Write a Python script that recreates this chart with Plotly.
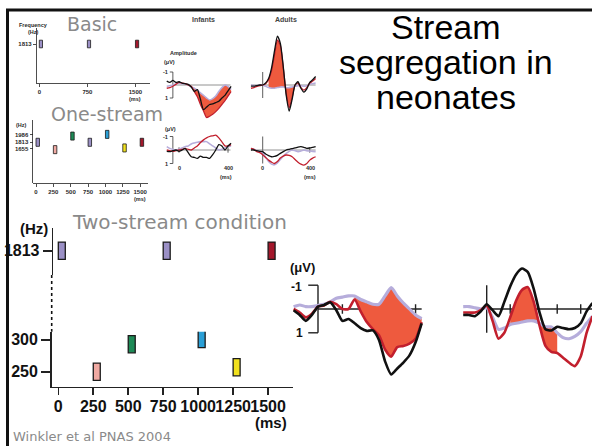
import plotly.graph_objects as go

W, H = 592, 446

# ---------------- data ----------------
tone_onsets = [0, 250, 500, 750, 1000, 1250, 1500]
tone_colors = ["#9b90c6", "#f0a9a2", "#1d8a56", "#9b90c6", "#2a9fd6", "#f1e11e", "#a3172b"]
basic_onsets = [0, 750, 1500]
basic_freqs = [1813, 1813, 1813]
basic_colors = ["#9b90c6", "#9b90c6", "#a3172b"]
one_stream_freqs = [1813, 1640, 1960, 1813, 2000, 1680, 1813]
two_stream_freqs = [1813, 250, 293, 1813, 301, 257, 1813]
tone_ms = 50

basic_ticks = [0, 750, 1500]
time_ticks = [0, 250, 500, 750, 1000, 1250, 1500]
one_stream_fticks = [1655, 1813, 1986]
two_stream_high_ticks = [1813]
two_stream_low_ticks = [250, 300]

# ERP waveforms (ms, microvolts; negative plotted upward)
t_inf_big = [-100, -75, -50, -25, 0, 25, 50, 75, 100, 125, 150, 175, 200, 225, 250, 275, 300, 325, 350, 375, 400, 425]
inf_big_black = [0.05, 0.25, 0.5, 0.25, -0.1, -0.17, -0.28, 0.05, 0.5, 0.42, 0.6, 0.8, 0.92, 0.9, 1.3, 2.2, 2.75, 2.5, 2.25, 1.95, 1.4, 0.6]
inf_big_red = [0.0, 0.15, 0.35, 0.2, -0.1, -0.15, -0.3, -0.2, 0.0, 0.0, -0.4, 0.1, 0.55, 0.85, 1.1, 1.7, 2.0, 1.6, 1.55, 1.45, 1.25, 0.55]
inf_big_lav = [-0.1, -0.17, -0.1, -0.1, -0.15, -0.2, -0.3, -0.45, -0.5, -0.55, -0.55, -0.4, -0.3, -0.2, -0.2, -0.55, -0.9, -0.55, -0.25, 0.0, 0.25, 0.4]
inf_big_fill = [150, 425]

t_adu_big = [-100, -75, -50, -25, 0, 25, 50, 75, 100, 125, 150, 175, 200, 225, 250, 275, 300, 325, 350, 375, 400, 425, 450]
adu_big_black = [0.25, 0.25, 0.3, 0.1, -0.2, 0.05, 0.3, -0.3, -0.95, -1.45, -1.7, -1.55, -0.85, 0.15, 0.85, 0.9, 0.75, 0.8, 0.85, 0.8, 0.6, 0.1, -0.25]
adu_big_red = [0.15, 0.15, 0.15, 0.05, -0.15, 0.5, 1.25, 1.0, 0.35, -0.35, -0.8, -0.92, -0.3, 0.7, 1.55, 1.8, 1.85, 2.05, 2.25, 2.4, 2.0, 1.0, 0.3]
adu_big_lav = [-0.1, -0.1, -0.05, 0.0, -0.05, 0.35, 0.85, 0.8, 0.65, 0.6, 0.55, 0.5, 0.5, 0.6, 0.75, 0.75, 1.0, 1.2, 1.25, 1.15, 0.95, 0.6, 0.3]
adu_big_fill = [100, 300]

t_inf_small = [-100, -75, -50, -25, 0, 25, 50, 75, 100, 125, 150, 175, 200, 225, 250, 275, 300, 325, 350, 375, 400, 425]
inf_up_black = [-0.3, -0.2, -0.35, -0.2, -0.25, -0.15, -0.1, -0.05, 0.15, 0.5, 0.35, 1.1, 1.9, 1.7, 1.5, 1.45, 1.35, 1.25, 1.0, 0.8, 0.45, 0.1]
inf_up_red = [0.25, 0.2, 0.1, -0.05, -0.2, -0.15, -0.1, 0.0, 0.1, 0.5, 0.9, 1.5, 2.0, 2.5, 2.4, 2.25, 2.05, 1.8, 1.5, 1.2, 0.85, 0.5]
inf_up_lav = [0.1, 0.05, 0.0, -0.1, -0.15, -0.1, -0.1, 0.0, 0.15, 0.25, 0.4, 0.6, 0.8, 1.0, 1.15, 1.05, 0.85, 0.5, 0.2, 0.0, 0.1, 0.35]
inf_up_fill = [100, 425]
inf_lo_black = [0.1, 0.12, 0.05, 0.0, 0.1, 0.0, -0.12, 0.2, 0.5, 0.55, 0.62, 0.45, 0.55, 0.55, 0.62, 0.35, 0.0, -0.4, -0.3, 0.0, -0.3, -0.5]
inf_lo_red = [0.0, 0.05, 0.1, 0.05, 0.0, -0.05, -0.12, -0.05, 0.0, -0.15, -0.3, -0.55, -0.75, -0.9, -1.0, -1.05, -1.1, -0.9, -0.6, -0.3, -0.3, -0.4]
inf_lo_lav = [-0.25, -0.12, -0.05, 0.0, -0.05, -0.15, -0.25, -0.3, -0.45, -0.52, -0.58, -0.62, -0.62, -0.62, -0.45, -0.3, -0.15, 0.0, -0.05, -0.15, -0.25, -0.3]

t_adu_small = [-100, -75, -50, -25, 0, 25, 50, 75, 100, 125, 150, 175, 200, 225, 250, 275, 300, 325, 350, 375, 400, 425, 450]
adu_up_black = [0.08, 0.08, 0.05, 0.0, 0.0, -0.15, -0.5, -1.3, -2.6, -3.75, -3.2, -1.4, 0.8, 2.0, 1.1, 0.0, -0.25, 0.25, 0.55, 0.3, -0.2, -0.4, -0.65]
adu_up_red = [0.25, 0.2, 0.1, 0.05, 0.0, -0.1, -0.4, -1.1, -2.3, -3.45, -3.05, -1.3, 0.65, 1.75, 0.95, 0.0, -0.15, 0.2, 0.4, 0.2, -0.15, -0.3, -0.5]
adu_up_lav = [0.0, 0.05, 0.05, 0.0, 0.0, 0.1, 0.2, 0.25, 0.25, 0.2, 0.15, 0.15, 0.2, 0.2, 0.15, 0.1, 0.05, 0.05, 0.1, 0.05, -0.05, -0.1, -0.15]
adu_up_fill = [50, 275]
adu_lo_black = [0.0, 0.0, 0.05, 0.1, 0.12, 0.3, 0.42, 0.5, 0.48, 0.4, 0.25, 0.12, 0.0, -0.05, -0.1, -0.15, -0.22, -0.25, -0.2, -0.12, -0.15, -0.2, -0.25]
adu_lo_red = [-0.12, -0.05, 0.12, 0.2, 0.35, 0.55, 0.75, 0.9, 1.0, 0.85, 0.6, 0.45, 0.37, 0.4, 0.5, 0.7, 0.9, 1.05, 1.12, 1.0, 0.75, 0.6, 0.5]
adu_lo_lav = [-0.12, -0.05, 0.05, 0.1, 0.2, 0.55, 0.85, 1.05, 1.1, 0.95, 0.7, 0.45, 0.25, 0.1, 0.0, 0.05, 0.12, 0.08, 0.0, 0.05, 0.08, 0.1, 0.12]

# ---------------- styles ----------------
BLACK = "#111111"
RED = "#c21f2d"
LAV = "#b6addb"
FILL = "#ee5a3e"
GREY_TXT = "#8a8a8a"
LBL = "#2a2a2a"


def xdom(a, b):
    return [a / W, b / W]


def ydom(top, bottom):
    return [1 - bottom / H, 1 - top / H]


def xr(a, b, p0, k):
    return [(a - p0) * k, (b - p0) * k]


def yr_hz(top, bottom, p_ref, f_ref, k):
    return [f_ref + (p_ref - bottom) * k, f_ref + (p_ref - top) * k]


def yr_uv(top, bottom, p0, s):
    return [(bottom - p0) / s, (top - p0) / s]


fig = go.Figure()


def tones(xa, ya, onsets, freqs, colors, height, lw):
    fig.add_trace(go.Bar(
        x=onsets, y=[height] * len(onsets), base=[f - height / 2 for f in freqs],
        width=[tone_ms] * len(onsets), offset=0,
        marker=dict(color=colors, line=dict(color="#1a1a1a", width=lw)),
        xaxis=xa, yaxis=ya, showlegend=False, hoverinfo="skip"))


def erp(xa, ya, t, blk, red, lav, fill, lw):
    if fill:
        idx = [i for i, v in enumerate(t) if fill[0] <= v <= fill[1]]
        fig.add_trace(go.Scatter(x=[t[i] for i in idx], y=[lav[i] for i in idx], mode="lines",
                                 line=dict(width=0, color=LAV), xaxis=xa, yaxis=ya, showlegend=False))
        fig.add_trace(go.Scatter(x=[t[i] for i in idx], y=[red[i] for i in idx], mode="lines",
                                 line=dict(width=0, color=RED), fill="tonexty", fillcolor=FILL,
                                 xaxis=xa, yaxis=ya, showlegend=False))
    for ys, c, w in [(lav, LAV, lw * 1.2), (red, RED, lw), (blk, BLACK, lw)]:
        fig.add_trace(go.Scatter(x=t, y=ys, mode="lines", line=dict(color=c, width=w, shape="spline", smoothing=0.6),
                                 xaxis=xa, yaxis=ya, showlegend=False))


# tone panels
tones("x", "y", basic_onsets, basic_freqs, basic_colors, 180, 0.8)
tones("x2", "y2", tone_onsets, one_stream_freqs, tone_colors, 190, 0.8)
lo = [(t, f, c) for t, f, c in zip(tone_onsets, two_stream_freqs, tone_colors) if f < 1000]
hi = [(t, f, c) for t, f, c in zip(tone_onsets, two_stream_freqs, tone_colors) if f >= 1000]
tones("x3", "y3", [a[0] for a in lo], [a[1] for a in lo], [a[2] for a in lo], 27, 1.3)
tones("x4", "y4", [a[0] for a in hi], [a[1] for a in hi], [a[2] for a in hi], 27, 1.3)

# ERP panels
erp("x5", "y5", t_inf_small, inf_up_black, inf_up_red, inf_up_lav, inf_up_fill, 1.3)
erp("x6", "y6", t_inf_small, inf_lo_black, inf_lo_red, inf_lo_lav, None, 1.3)
erp("x7", "y7", t_adu_small, adu_up_black, adu_up_red, adu_up_lav, adu_up_fill, 1.3)
erp("x8", "y8", t_adu_small, adu_lo_black, adu_lo_red, adu_lo_lav, None, 1.3)
erp("x9", "y9", t_inf_big, inf_big_black, inf_big_red, inf_big_lav, inf_big_fill, 2.6)
erp("x10", "y10", t_adu_big, adu_big_black, adu_big_red, adu_big_lav, adu_big_fill, 2.6)

tiny = dict(family="Liberation Sans", size=6, color=LBL, weight="bold")
big_tick = dict(family="Liberation Sans", size=16, color="#111", weight="bold")


def vis_x(dom, rng, anchor, ticks, font, ticklen, lw, standoff=0):
    return dict(domain=dom, range=rng, anchor=anchor, showline=True, linecolor="#222", linewidth=lw,
                ticks="outside", ticklen=ticklen, tickwidth=lw, tickcolor="#222", tickvals=ticks,
                tickfont=font, tickangle=0, showgrid=False, zeroline=False, ticklabelstandoff=standoff)


def vis_y(dom, rng, anchor, ticks, font, ticklen, lw):
    return dict(domain=dom, range=rng, anchor=anchor, showline=True, linecolor="#222", linewidth=lw,
                ticks="outside", ticklen=ticklen, tickwidth=lw, tickcolor="#222", tickvals=ticks,
                tickfont=font, showgrid=False, zeroline=False)


def hid(dom, rng, anchor):
    return dict(domain=dom, range=rng, anchor=anchor, visible=False, showgrid=False, zeroline=False)


layout = dict(
    width=W, height=H, margin=dict(l=0, r=0, t=0, b=0),
    paper_bgcolor="white", plot_bgcolor="rgba(0,0,0,0)", bargap=0, showlegend=False,
    # basic
    xaxis=vis_x(xdom(36.7, 150), xr(36.7, 150, 39.3, 15.6), "y", basic_ticks, tiny, 3, 0.8),
    yaxis=vis_y(ydom(28, 83), yr_hz(28, 83, 44, 1813, 23.6), "x", [1813], tiny, 3, 0.8),
    # one-stream
    xaxis2=vis_x(xdom(33.3, 148), xr(33.3, 148, 36, 14.4), "y2", time_ticks, tiny, 3, 0.8),
    yaxis2=vis_y(ydom(120, 183.3), yr_hz(120, 183.3, 142.3, 1813, 23.6), "x2", one_stream_fticks, tiny, 3, 0.8),
    # two-stream
    xaxis3=vis_x(xdom(51.7, 293), xr(51.7, 293, 58.3, 7.15), "y3", time_ticks, big_tick, 7, 1.6, -3),
    yaxis3=vis_y(ydom(331.7, 386.7), yr_hz(331.7, 386.7, 371.7, 250, 1.5625), "x3", two_stream_low_ticks, big_tick, 9, 1.6),
    xaxis4=hid(xdom(51.7, 293), xr(51.7, 293, 58.3, 7.15), "y4"),
    yaxis4=vis_y(ydom(228, 275), yr_hz(228, 275, 250.7, 1813, 1.5625), "free", two_stream_high_ticks, big_tick, 9, 1.6),
    # small ERP
    xaxis5=hid(xdom(160, 235), xr(160, 235, 179, 8.16), "y5"),
    yaxis5=hid(ydom(60, 120), yr_uv(60, 120, 85, 13), "x5"),
    xaxis6=hid(xdom(160, 235), xr(160, 235, 179, 8.16), "y6"),
    yaxis6=hid(ydom(128, 180), yr_uv(128, 180, 150, 13.5), "x6"),
    xaxis7=hid(xdom(245, 320), xr(245, 320, 262.7, 8.5), "y7"),
    yaxis7=hid(ydom(25, 125), yr_uv(25, 125, 85, 13), "x7"),
    xaxis8=hid(xdom(245, 320), xr(245, 320, 262.7, 8.5), "y8"),
    yaxis8=hid(ydom(128, 180), yr_uv(128, 180, 150, 13.5), "x8"),
    # big ERP
    xaxis9=hid(xdom(285, 432), xr(285, 432, 318, 4.1), "y9"),
    yaxis9=hid(ydom(255, 385), yr_uv(255, 385, 309, 23.8), "x9"),
    xaxis10=hid(xdom(455, 592), xr(455, 592, 486.7, 4.255), "y10"),
    yaxis10=hid(ydom(255, 385), yr_uv(255, 385, 309, 23.8), "x10"),
)
layout["yaxis4"]["position"] = 51.7 / W
fig.update_layout(**layout)

shapes = []


def pline(x0, y0, x1, y1, w, color="#111", dash="solid"):
    shapes.append(dict(type="line", xref="paper", yref="paper", x0=x0 / W, y0=1 - y0 / H,
                       x1=x1 / W, y1=1 - y1 / H, line=dict(color=color, width=w, dash=dash)))


def dline(xa, ya, x0, y0, x1, y1, w, color="#333"):
    shapes.append(dict(type="line", xref=xa, yref=ya, x0=x0, y0=y0, x1=x1, y1=y1,
                       line=dict(color=color, width=w), layer="below"))


# slide frame
pline(6, 10, 592, 10, 3)
pline(7.5, 10, 7.5, 446, 3)
# broken frequency axis of the two-stream panel
pline(51.7, 275, 51.7, 331.7, 1.6, dash="dot")

# ERP scale bars and baselines
for xa, ya in [("x5", "y5"), ("x6", "y6")]:
    dline(xa, ya, -50, -1, -50, 1, 0.8)
    dline(xa, ya, -75, -1, -50, -1, 0.8)
    dline(xa, ya, -75, 1, -50, 1, 0.8)
    dline(xa, ya, -50, 0, 420, 0, 0.8, "#777")
dline("x6", "y6", 0, -0.2, 0, 0.2, 0.8)
dline("x6", "y6", 400, -0.2, 400, 0.2, 0.8)
for xa, ya in [("x7", "y7"), ("x8", "y8")]:
    dline(xa, ya, 0, -1, 0, 1, 0.8)
    dline(xa, ya, -100, 0, 450, 0, 0.8, "#777")
dline("x8", "y8", 400, -0.2, 400, 0.2, 0.8)
dline("x9", "y9", 0, -1, 0, 1, 1.4, "#222")
dline("x9", "y9", -40, -1, 0, -1, 1.4, "#222")
dline("x9", "y9", -40, 1, 0, 1, 1.4, "#222")
dline("x9", "y9", 0, 0, 425, 0, 1.4, "#222")
dline("x10", "y10", 0, -1, 0, 1, 1.4, "#222")
dline("x10", "y10", 0, 0, 450, 0, 1.4, "#222")
for tk in [100, 200, 300, 400]:
    dline("x9", "y9", tk, -0.2, tk, 0.2, 1.4, "#222")
    dline("x10", "y10", tk, -0.2, tk, 0.2, 1.4, "#222")

fig.update_layout(shapes=shapes)

ann = []


def txt(s, x, y, size, color=LBL, family="Liberation Sans", bold=True, xanchor="center"):
    ann.append(dict(text=s, x=x / W, y=1 - y / H, xref="paper", yref="paper", showarrow=False,
                    xanchor=xanchor, yanchor="middle",
                    font=dict(family=family, size=size, color=color, weight="bold" if bold else "normal")))


# title
for s, y in [("Stream", 27), ("segregation in", 62), ("neonates", 97)]:
    txt(s, 446, y, 34, color="#000", bold=False)
# grey captions
cap = "DejaVu Sans"
txt("Basic", 92, 24, 19, GREY_TXT, cap, False)
txt("One-stream", 107, 114, 19, GREY_TXT, cap, False)
txt("Two-stream condition", 179, 222, 20, GREY_TXT, cap, False)
txt("Winkler et al PNAS 2004", 11, 436, 13, GREY_TXT, cap, False, "left")
# tone panel labels
txt("Frequency", 33, 25, 5.5)
txt("(Hz)", 33, 32, 5.5)
txt("(ms)", 135, 99, 5.5)
txt("(Hz)", 21, 125, 5.5)
txt("(ms)", 140, 199, 5.5)
txt("(Hz)", 34, 228, 15, "#111")
txt("(ms)", 271, 422, 15, "#111")
# ERP labels
txt("Infants", 203, 19, 7, "#444")
txt("Adults", 286, 19, 7, "#444")
txt("Amplitude", 183, 53, 5.5)
txt("(\u03bcV)", 169, 62, 5.5)
txt("-1", 165, 72, 5.5)
txt("1", 166, 98, 5.5)
txt("(\u03bcV)", 170, 129, 5.5)
txt("-1", 165, 137, 5.5)
txt("1", 166, 164, 5.5)
txt("0", 179, 168, 5.5)
txt("400", 228, 168, 5.5)
txt("(ms)", 226, 177, 5.5)
txt("0", 262.7, 168, 5.5)
txt("400", 310, 168, 5.5)
txt("(ms)", 310, 177, 5.5)
txt("(\u03bcV)", 302, 267, 13, "#111")
txt("-1", 296, 287, 12, "#111")
txt("1", 299, 333, 12, "#111")

fig.update_layout(annotations=ann)
fig.write_html("out.html", config={"displayModeBar": False, "staticPlot": True},
               post_script="document.body.style.margin='0';document.body.style.overflow='hidden';")
